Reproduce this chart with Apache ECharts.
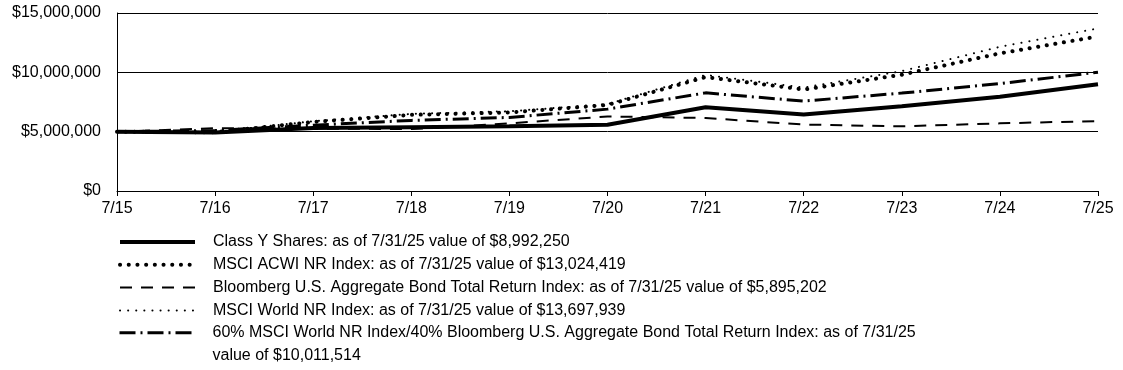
<!DOCTYPE html>
<html>
<head>
<meta charset="utf-8">
<script src="https://cdn.jsdelivr.net/npm/echarts@6/dist/echarts.min.js"></script>
<style>html,body{margin:0;padding:0;background:#fff}#c{width:1123px;height:370px}</style>
</head>
<body>
<div id="c"></div>
<script>
var categories = ['7/15','7/16','7/17','7/18','7/19','7/20','7/21','7/22','7/23','7/24','7/25'];
var classY = [5000000, 4920000, 5300000, 5380000, 5450000, 5590000, 7050000, 6450000, 7150000, 7950000, 8992250];
var msciAcwi = [5000000, 4950000, 5820000, 6420000, 6620000, 7250000, 9600000, 8550000, 9800000, 11600000, 13024419];
var bloombergAgg = [5000000, 5290000, 5260000, 5220000, 5700000, 6280000, 6150000, 5600000, 5450000, 5700000, 5895202];
var msciWorld = [5000000, 4980000, 5880000, 6500000, 6720000, 7320000, 9780000, 8720000, 10100000, 12150000, 13697939];
var blend6040 = [5000000, 5100000, 5550000, 5950000, 6200000, 6900000, 8270000, 7580000, 8250000, 9050000, 10011514];
var yTicks = [0, 5000000, 10000000, 15000000];

var names = [
  'Class Y Shares: as of 7/31/25 value of $8,992,250',
  'MSCI ACWI NR Index: as of 7/31/25 value of $13,024,419',
  'Bloomberg U.S. Aggregate Bond Total Return Index: as of 7/31/25 value of $5,895,202',
  'MSCI World NR Index: as of 7/31/25 value of $13,697,939',
  '60% MSCI World NR Index/40% Bloomberg U.S. Aggregate Bond Total Return Index: as of 7/31/25\nvalue of $10,011,514'
];

var font = '"Liberation Sans", Arial, sans-serif';
var chart = echarts.init(document.getElementById('c'), null, {renderer: 'canvas'});

function fmt(v) {
  return '$' + String(v).replace(/\B(?=(\d{3})+(?!\d))/g, ',');
}

var legendText = {fontFamily: font, fontSize: 16, lineHeight: 16, color: '#000', padding: [0, 0, 0, 13]};
var legendItemStyle = {color: 'rgba(0,0,0,0)', borderWidth: 0, opacity: 0};
var legendLineStyle = {width: 'inherit', type: 'inherit', color: 'inherit', cap: 'inherit'};

chart.setOption({
  animation: false,
  grid: {left: 117, right: 25, top: 13, bottom: 179, containLabel: false},
  xAxis: {
    type: 'category',
    data: categories,
    boundaryGap: false,
    axisLine: {lineStyle: {color: '#000', width: 1}},
    axisTick: {show: true, length: 5, inside: false, lineStyle: {color: '#000'}},
    axisLabel: {color: '#000', fontFamily: font, fontSize: 16, margin: 10},
    splitLine: {show: false}
  },
  yAxis: {
    type: 'value',
    min: yTicks[0],
    max: yTicks[yTicks.length - 1],
    interval: yTicks[1] - yTicks[0],
    axisLine: {show: true, lineStyle: {color: '#000', width: 1}},
    axisTick: {show: false},
    axisLabel: {color: '#000', fontFamily: font, fontSize: 16, margin: 16, formatter: fmt},
    splitLine: {show: true, lineStyle: {color: '#000', width: 1}}
  },
  legend: [
    {
      data: names.slice(0, 4),
      orient: 'vertical',
      left: 118,
      top: 234,
      padding: 0,
      itemWidth: 75,
      itemHeight: 14,
      itemGap: 6.8,
      selectedMode: false,
      itemStyle: legendItemStyle,
      lineStyle: legendLineStyle,
      textStyle: legendText
    },
    {
      data: [names[4]],
      orient: 'vertical',
      left: 118,
      top: 299,
      padding: 0,
      itemWidth: 75,
      itemHeight: 14,
      selectedMode: false,
      itemStyle: legendItemStyle,
      lineStyle: legendLineStyle,
      formatter: function (n) { return ' \n' + n; },
      textStyle: Object.assign({}, legendText, {lineHeight: 22.5})
    }
  ],
  series: [
    {
      name: names[0], type: 'line', data: classY, symbol: 'none', z: 5,
      lineStyle: {color: '#000', width: 4, type: 'solid'}, itemStyle: {color: '#000'}
    },
    {
      name: names[1], type: 'line', data: msciAcwi, symbol: 'none', z: 4,
      lineStyle: {color: '#000', width: 4, type: [0.1, 8.6], cap: 'round'}, itemStyle: {color: '#000'}
    },
    {
      name: names[2], type: 'line', data: bloombergAgg, symbol: 'none', z: 3,
      lineStyle: {color: '#000', width: 2, type: [12, 9]}, itemStyle: {color: '#000'}
    },
    {
      name: names[3], type: 'line', data: msciWorld, symbol: 'none', z: 2,
      lineStyle: {color: '#000', width: 2, type: [0.1, 8], cap: 'round'}, itemStyle: {color: '#000'}
    },
    {
      name: names[4], type: 'line', data: blend6040, symbol: 'none', z: 3,
      lineStyle: {color: '#000', width: 3, type: [16, 5, 2, 5]}, itemStyle: {color: '#000'}
    }
  ]
});
</script>
</body>
</html>
